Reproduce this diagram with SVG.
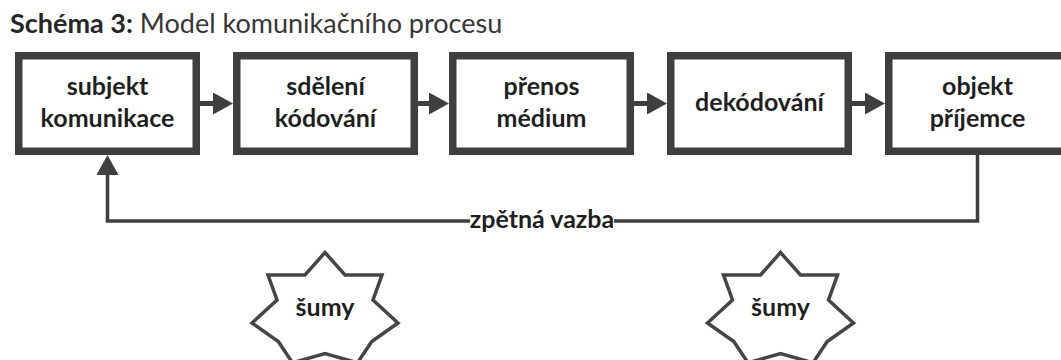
<svg xmlns="http://www.w3.org/2000/svg" width="1061" height="360" viewBox="0 0 1061 360">
  <style>
    .box { fill: #ffffff; stroke: #3f3f3f; stroke-width: 7.5; }
    .lbl { font-family: Lato, "Open Sans", sans-serif; font-weight: 700; font-size: 25px; fill: #1f1f1f; text-anchor: middle; }
    .flow { stroke: #3f3f3f; stroke-width: 5; fill: none; }
    .fb { stroke: #3f3f3f; stroke-width: 3.5; fill: none; }
    .star { fill: #ffffff; stroke: #454545; stroke-width: 3.5; stroke-linejoin: miter; }
    .title { font-family: Lato, "Open Sans", sans-serif; font-size: 27px; fill: #363636; }
  </style>
  <defs>
    <marker id="head" markerUnits="userSpaceOnUse" markerWidth="20" markerHeight="22" refX="0" refY="11" orient="auto" viewBox="0 0 20 22">
      <path d="M0,0 L20,11 L0,22 z" fill="#3f3f3f"/>
    </marker>
    <polygon id="starShape" points="0,-58 20,-35.5 57,-35.5 48,-10.5 73,12.5 46.7,31 32.5,52.3 0,43 -32.5,52.3 -46.7,31 -73,12.5 -48,-10.5 -57,-35.5 -20,-35.5"/>
  </defs>
  <rect width="1061" height="360" fill="#ffffff"/>

  <text class="title" x="10" y="33"><tspan font-weight="700" fill="#262626">Schéma 3:</tspan> Model komunikačního procesu</text>

  <g id="connectors">
    <line class="flow" x1="200" y1="103.5" x2="213" y2="103.5" marker-end="url(#head)"/>
    <line class="flow" x1="418" y1="103.5" x2="429" y2="103.5" marker-end="url(#head)"/>
    <line class="flow" x1="634" y1="103.5" x2="647" y2="103.5" marker-end="url(#head)"/>
    <line class="flow" x1="852" y1="103.5" x2="865" y2="103.5" marker-end="url(#head)"/>
    <path class="fb" d="M977.5,155 V221 H614"/>
    <path class="fb" d="M470,221 H107.5 V175" marker-end="url(#head)"/>
    <text class="lbl" x="542" y="228">zpětná vazba</text>
  </g>

  <g id="n1">
    <rect class="box" x="18.75" y="55.75" width="177.5" height="95.5"/>
    <text class="lbl" x="107.5" y="95">subjekt</text>
    <text class="lbl" x="107.5" y="127">komunikace</text>
  </g>
  <g id="n2">
    <rect class="box" x="236.75" y="55.75" width="177.5" height="95.5"/>
    <text class="lbl" x="325.5" y="95">sdělení</text>
    <text class="lbl" x="325.5" y="127">kódování</text>
  </g>
  <g id="n3">
    <rect class="box" x="452.75" y="55.75" width="177.5" height="95.5"/>
    <text class="lbl" x="541.5" y="95">přenos</text>
    <text class="lbl" x="541.5" y="127">médium</text>
  </g>
  <g id="n4">
    <rect class="box" x="670.75" y="55.75" width="177.5" height="95.5"/>
    <text class="lbl" x="759.5" y="111">dekódování</text>
  </g>
  <g id="n5">
    <rect class="box" x="888.75" y="55.75" width="177.5" height="95.5"/>
    <text class="lbl" x="977.5" y="95">objekt</text>
    <text class="lbl" x="977.5" y="127">příjemce</text>
  </g>

  <g id="noise1">
    <use href="#starShape" class="star" transform="translate(325,310.5)"/>
    <text class="lbl" x="325" y="316">šumy</text>
  </g>
  <g id="noise2">
    <use href="#starShape" class="star" transform="translate(780.5,310.5)"/>
    <text class="lbl" x="780.5" y="316">šumy</text>
  </g>
</svg>
